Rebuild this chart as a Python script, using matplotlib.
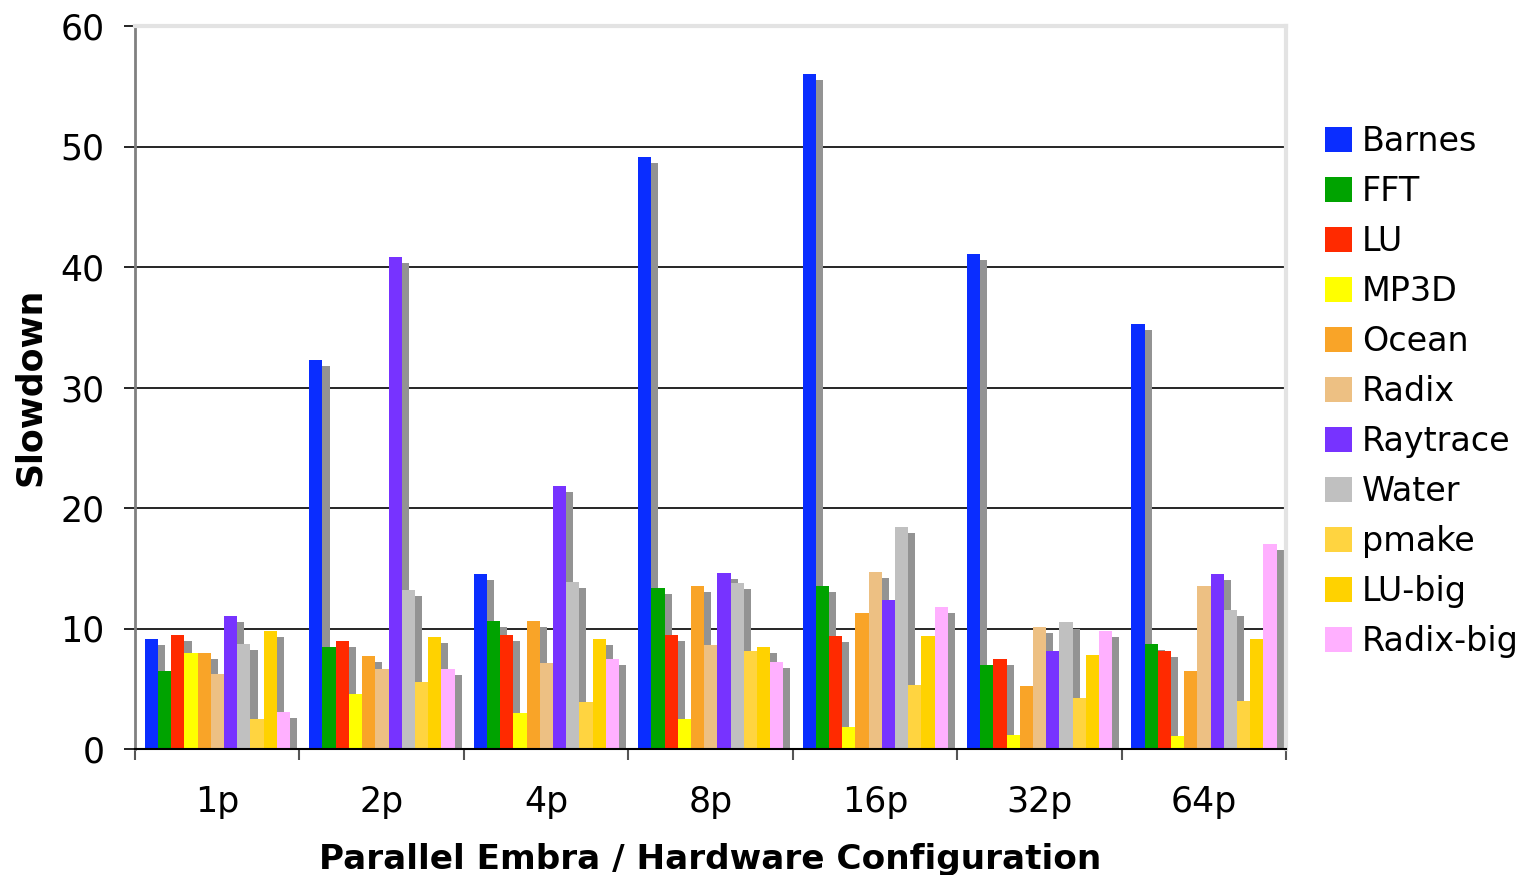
import numpy as np
import matplotlib.pyplot as plt
from matplotlib.patches import Patch

configs = ['1p', '2p', '4p', '8p', '16p', '32p', '64p']
benchmarks = ['Barnes', 'FFT', 'LU', 'MP3D', 'Ocean', 'Radix', 'Raytrace',
              'Water', 'pmake', 'LU-big', 'Radix-big']

# slowdown per benchmark, one value per configuration
barnes = [9.1, 32.3, 14.5, 49.1, 56.0, 41.1, 35.3]
fft = [6.5, 8.5, 10.6, 13.4, 13.5, 7.0, 8.7]
lu = [9.5, 9.0, 9.5, 9.5, 9.4, 7.5, 8.1]
mp3d = [8.0, 4.6, 3.0, 2.5, 1.8, 1.2, 1.1]
ocean = [8.0, 7.7, 10.6, 13.5, 11.3, 5.2, 6.5]
radix = [6.2, 6.6, 7.1, 8.6, 14.7, 10.1, 13.5]
raytrace = [11.0, 40.8, 21.8, 14.6, 12.4, 8.1, 14.5]
water = [8.7, 13.2, 13.9, 13.8, 18.4, 10.5, 11.5]
pmake = [2.5, 5.6, 3.9, 8.1, 5.3, 4.2, 4.0]
lu_big = [9.8, 9.3, 9.1, 8.5, 9.4, 7.8, 9.1]
radix_big = [3.1, 6.6, 7.5, 7.2, 11.8, 9.8, 17.0]

series = [barnes, fft, lu, mp3d, ocean, radix, raytrace, water, pmake, lu_big, radix_big]
colors = ['#0A2DFF', '#00A300', '#FF2A00', '#FFFF00', '#F9A428', '#EDC083',
          '#7733FF', '#C0C0C0', '#FFD440', '#FFD200', '#FFB0FF']
shadow = '#939393'

fig = plt.figure(figsize=(15.3, 8.75), dpi=100)
ax = fig.add_axes([135 / 1530, 1 - 749 / 875, (1286 - 135) / 1530, (749 - 26) / 875])

w = 0.0803
start = 0.06
dx = 0.043   # shadow shift right
dy = 0.5     # shadow shift down
base = np.arange(len(configs)) + start

# shadows first so every bar sits on top of them
for j, vals in enumerate(series):
    ax.bar(base + j * w + dx, np.array(vals) - dy, width=w, align='edge',
           color=shadow, zorder=2, linewidth=0)
for j, vals in enumerate(series):
    ax.bar(base + j * w, vals, width=w, align='edge', color=colors[j],
           zorder=3, linewidth=0)

ax.set_xlim(0, len(configs))
ax.set_ylim(0, 60)
ax.set_yticks(np.arange(0, 61, 10))
ax.tick_params(axis='y', direction='out', length=8, width=1.2, color='black',
               labelsize=25, pad=14)

ax.set_xticks(np.arange(len(configs) + 1))
ax.set_xticklabels([])
ax.set_xticks(np.arange(len(configs)) + 0.5, minor=True)
ax.set_xticklabels(configs, minor=True)
ax.tick_params(axis='x', which='major', direction='out', length=8, width=1.5, color='#555555')
ax.tick_params(axis='x', which='minor', length=0, labelsize=25, pad=26)

ax.set_axisbelow(True)
ax.yaxis.grid(True, color='black', linewidth=1.2)

ax.spines['left'].set_color('#808080')
ax.spines['left'].set_linewidth(2)
ax.spines['bottom'].set_color('black')
ax.spines['bottom'].set_linewidth(1.5)
for s in ['top', 'right']:
    ax.spines[s].set_color('#E3E3E3')
    ax.spines[s].set_linewidth(3)
for s in ax.spines.values():
    s.set_zorder(4)

fig.text(30 / 1530, 1 - 387 / 875, 'Slowdown', rotation=90, ha='center', va='center',
         fontsize=25, fontweight='bold')
fig.text(710 / 1530, 1 - 859 / 875, 'Parallel Embra / Hardware Configuration',
         ha='center', va='center', fontsize=24.7, fontweight='bold')

handles = [Patch(facecolor=c, edgecolor='none') for c in colors]
fig.legend(handles, benchmarks, loc='upper left', bbox_to_anchor=(1325 / 1530, 1 - 125 / 875),
           frameon=False, fontsize=24, handlelength=0.81, handleheight=0.75,
           handletextpad=0.3, labelspacing=0.51, borderpad=0, borderaxespad=0)

fig.savefig('out.png', dpi=100, facecolor='white')
